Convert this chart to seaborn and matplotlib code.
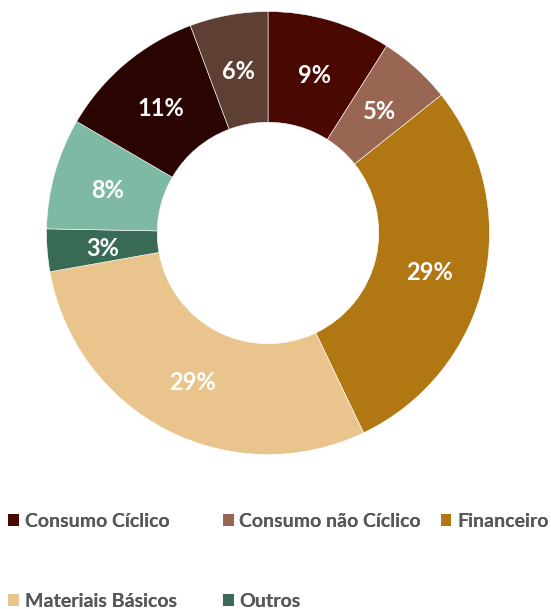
import matplotlib
matplotlib.use("Agg")
import matplotlib.pyplot as plt
from matplotlib.patches import Patch
import seaborn as sns

# slices, clockwise from 12 o'clock
slice_values = [9.0, 5.3, 28.6, 29.3, 3.1, 8.1, 10.9, 5.7]
slice_colors = ["#4a0802", "#9a6654", "#b17712", "#e9c48d",
                "#396a55", "#7db9a3", "#2a0400", "#5d3f34"]

# legend entries (only these are shown in the picture)
legend_names = ["Consumo Cíclico", "Consumo não Cíclico", "Financeiro",
                "Materiais Básicos", "Outros"]

sns.set_style("white")
plt.rcParams["font.family"] = ["Lato", "DejaVu Sans"]

palette = sns.color_palette(slice_colors)

fig = plt.figure(figsize=(5.51, 6.09), dpi=100)
ax = fig.add_axes([0.0844, 0.2537, 0.804, 0.7274])

wedges, texts, autotexts = ax.pie(
    slice_values,
    colors=palette,
    startangle=90,
    counterclock=False,
    radius=1,
    autopct=lambda p: f"{p:.0f}%",
    pctdistance=0.75,
    wedgeprops=dict(width=0.5, edgecolor="white", linewidth=0.4),
    textprops=dict(color="white", fontsize=17, fontweight="bold"),
)
for t in autotexts:
    t.set_va("center_baseline")
ax.set_xlim(-1, 1)
ax.set_ylim(-1, 1)
ax.axis("off")

# legend: one column at a time so each column starts where the original does
handles = [Patch(facecolor=palette[i], edgecolor="none") for i in range(5)]
columns = [([0, 3], 0.0145), ([1, 4], 0.4045), ([2], 0.80)]
for idx, x0 in columns:
    leg = fig.legend(
        [handles[i] for i in idx],
        [legend_names[i] for i in idx],
        loc="upper left",
        bbox_to_anchor=(x0, 0.158),
        frameon=False,
        fontsize=14,
        handlelength=0.55,
        handleheight=0.55,
        handletextpad=0.3,
        labelspacing=3.25,
        borderaxespad=0,
        borderpad=0,
    )
    for t in leg.get_texts():
        t.set_color("#595959")
        t.set_fontweight("bold")
    fig.add_artist(leg)

fig.savefig("out.png", dpi=100)
